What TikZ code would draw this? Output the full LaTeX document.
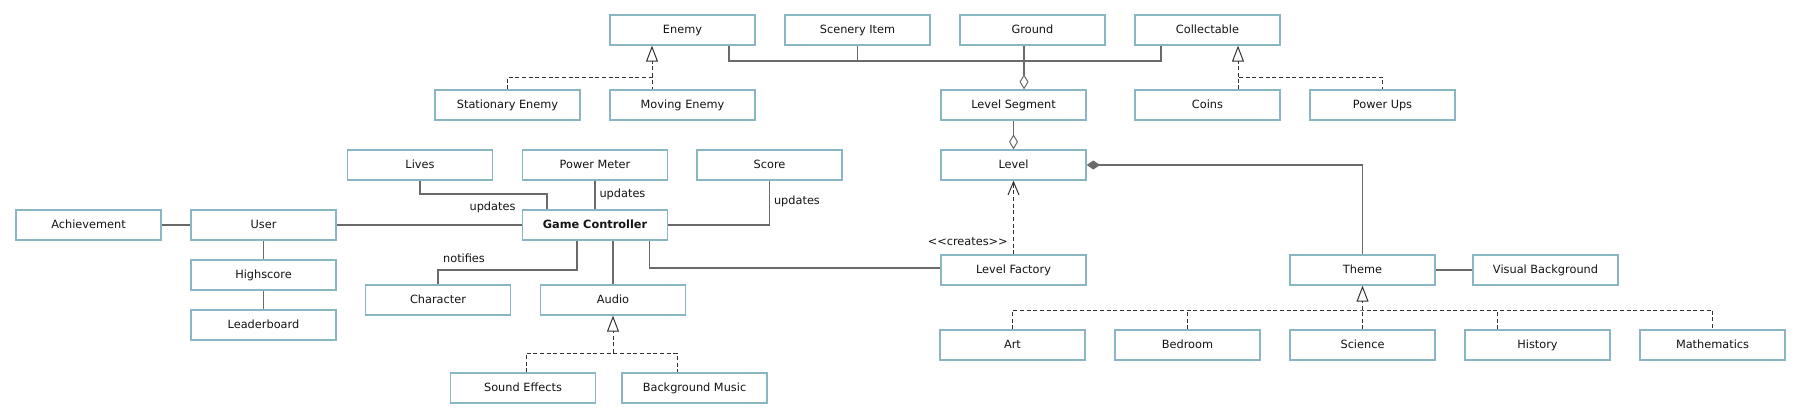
\documentclass[tikz,border=0pt]{standalone}
\usepackage{fontspec}
\newfontfamily\uifont{DejaVu Sans}
\usetikzlibrary{arrows.meta}
\definecolor{boxc}{HTML}{8AB6C1}
\definecolor{linec}{HTML}{6A6A6A}
\definecolor{txt}{HTML}{141414}
\begin{document}
\begin{tikzpicture}[x=0.75pt,y=-0.75pt,
 box/.style={draw=boxc, line width=1pt, fill=white, minimum width=108.75pt, minimum height=22.5pt, inner sep=0pt, text height=6.4pt, text depth=1.6pt, font=\uifont\fontsize{8.5}{10}\selectfont, text=txt},
 lbl/.style={font=\uifont\fontsize{8.5}{10}\selectfont, text=txt, inner sep=1pt, text height=6.4pt, text depth=1.6pt},
 conn/.style={draw=linec, line width=0.8pt},
 dsh/.style={draw=black!80, line width=0.75pt, dash pattern=on 3pt off 2pt},
 gen/.style={-{Triangle[open,length=12pt,width=9pt,line width=0.75pt]}},
 odia/.style={-{Diamond[open,length=11.25pt,width=6.75pt,line width=0.75pt]}},
 fdia/.style={-{Diamond[length=10pt,width=6.75pt]}},
 dep/.style={-{Straight Barb[length=9.75pt,width=8.25pt,line width=0.75pt]}}
]
\fill[white] (0,0) rectangle (1801,418);
\useasboundingbox (0,0) rectangle (1801,418);

% nodes
\node[box] (enemy) at (682.5,30) {Enemy};
\node[box] (scenery) at (857.5,30) {Scenery Item};
\node[box] (ground) at (1032.5,30) {Ground};
\node[box] (collect) at (1207.5,30) {Collectable};
\node[box] (stat) at (507.5,105) {Stationary Enemy};
\node[box] (moving) at (682.5,105) {Moving Enemy};
\node[box] (seg) at (1013.5,105) {Level Segment};
\node[box] (coins) at (1207.5,105) {Coins};
\node[box] (powerups) at (1382.5,105) {Power Ups};
\node[box] (lives) at (420,165) {Lives};
\node[box] (pm) at (595,165) {Power Meter};
\node[box] (score) at (769.5,165) {Score};
\node[box] (level) at (1013.5,165) {Level};
\node[box] (ach) at (88.5,225) {Achievement};
\node[box] (user) at (263.5,225) {User};
\node[box, font=\uifont\bfseries\fontsize{8.5}{10}\selectfont] (gc) at (595,225) {Game Controller};
\node[box] (hs) at (263.5,275) {Highscore};
\node[box] (lb) at (263.5,325) {Leaderboard};
\node[box] (char) at (438,300) {Character};
\node[box] (audio) at (613,300) {Audio};
\node[box] (lf) at (1013.5,270) {Level Factory};
\node[box] (theme) at (1362.5,270) {Theme};
\node[box] (vb) at (1545.5,270) {Visual Background};
\node[box] (se) at (523,388) {Sound Effects};
\node[box] (bm) at (694.5,388) {Background Music};
\node[box] (art) at (1012.5,345) {Art};
\node[box] (bed) at (1187.5,345) {Bedroom};
\node[box] (sci) at (1362.5,345) {Science};
\node[box] (hist) at (1537.5,345) {History};
\node[box] (math) at (1712.5,345) {Mathematics};

% aggregation bus to Level Segment
\coordinate (eA) at (729,61);
\coordinate (eC) at (1161,61);
\coordinate (gx) at (1024,61);
\draw[conn] (enemy.south -| eA) -- (eA) -- (eC) -- (collect.south -| eC);
\draw[conn] (scenery.south) -- (scenery.south |- eA);
\draw[conn, odia] (ground.south -| gx) -- (seg.north -| gx);
\draw[conn, odia] (seg.south) -- (level.north);
\draw[conn, fdia] (theme.north) |- (level.east);
\draw[dsh, dep] (lf.north) -- node[pos=0.17, left=3pt, lbl]{<<creates>>} (level.south);

% game controller
\coordinate (lv1) at (547,194);
\draw[conn] (lives.south) |- (lv1) -- (gc.north -| lv1);
\node[lbl, anchor=east] at (517,207) {updates};
\draw[conn] (pm.south) -- node[lbl, right=2pt, pos=0.47]{updates} (gc.north);
\draw[conn] (score.south) |- node[lbl, right=2pt, pos=0.23]{updates} (gc.east);
\coordinate (ch) at (577,270);
\draw[conn] (gc.south -| ch) -- (ch) -| (char.north);
\node[lbl] at (464,259) {notifies};
\draw[conn] (gc.south -| audio.north) -- (audio.north);
\coordinate (lfp) at (649.5,268);
\draw[conn] (gc.south -| lfp) -- (lfp) -- (lfp -| lf.west);
\draw[conn] (user.east) -- (gc.west);
\draw[conn] (ach.east) -- (user.west);
\draw[conn] (user.south) -- (hs.north);
\draw[conn] (hs.south) -- (lb.north);
\draw[conn] (theme.east) -- (vb.west);

% generalizations
\coordinate (ej) at (652,77);
\draw[dsh] (stat.north) |- (ej) -- (moving.north -| ej);
\draw[dsh, gen] (ej) -- (enemy.south -| ej);
\coordinate (cj) at (1238,77);
\draw[dsh] (coins.north -| cj) -- (cj) -| (powerups.north);
\draw[dsh, gen] (cj) -- (collect.south -| cj);
\coordinate (aj) at (613,353);
\coordinate (sj) at (526,353);
\coordinate (bj) at (677,353);
\draw[dsh] (se.north -| sj) -- (sj) -- (bj) -- (bm.north -| bj);
\draw[dsh, gen] (aj) -- (audio.south);
\coordinate (tj) at (1362.5,310);
\coordinate (hj) at (1497,310);
\draw[dsh] (art.north) |- (tj) -| (math.north);
\draw[dsh] (bed.north) -- (bed.north |- tj);
\draw[dsh] (sci.north) -- (tj);
\draw[dsh] (hist.north -| hj) -- (hj);
\draw[dsh, gen] (tj) -- (theme.south);
\end{tikzpicture}
\end{document}
